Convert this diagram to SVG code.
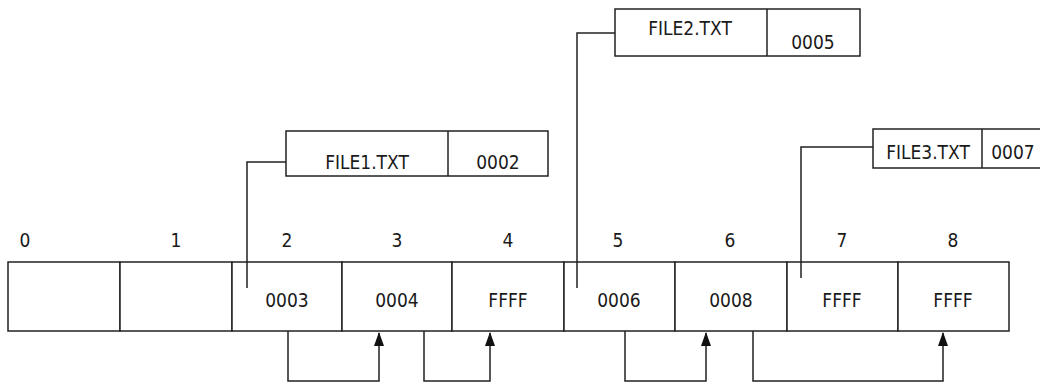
<svg xmlns="http://www.w3.org/2000/svg" width="1040" height="385" viewBox="0 0 1040 385">
<style>
.box{fill:#fff;stroke:#222;stroke-width:1.5}
.ln{fill:none;stroke:#222;stroke-width:1.5}
text{font-family:"DejaVu Sans Condensed","Liberation Sans",sans-serif;font-size:19px;fill:#1a1a1a;text-anchor:middle;dominant-baseline:central}
</style>
<defs>
<marker id="ah" viewBox="0 0 14 10" refX="13" refY="5" markerWidth="14" markerHeight="10" markerUnits="userSpaceOnUse" orient="auto">
<path d="M0,0 L14,5 L0,10 Z" fill="#111"/>
</marker>
</defs>
<rect width="1040" height="385" fill="#fff"/>
<g id="indices">
<text x="25" y="240">0</text>
<text x="176" y="240">1</text>
<text x="287" y="240">2</text>
<text x="397" y="240">3</text>
<text x="508" y="240">4</text>
<text x="618" y="240">5</text>
<text x="730" y="240">6</text>
<text x="842" y="240">7</text>
<text x="953" y="240">8</text>
</g>
<g id="cell0"><rect class="box" x="8" y="262" width="112" height="69"/></g>
<g id="cell1"><rect class="box" x="120" y="262" width="112" height="69"/></g>
<g id="cell2"><rect class="box" x="232" y="262" width="110" height="69"/><text x="287" y="300">0003</text></g>
<g id="cell3"><rect class="box" x="342" y="262" width="110" height="69"/><text x="397" y="300">0004</text></g>
<g id="cell4"><rect class="box" x="452" y="262" width="112" height="69"/><text x="508" y="300">FFFF</text></g>
<g id="cell5"><rect class="box" x="564" y="262" width="111" height="69"/><text x="619" y="300">0006</text></g>
<g id="cell6"><rect class="box" x="675" y="262" width="112" height="69"/><text x="731" y="300">0008</text></g>
<g id="cell7"><rect class="box" x="787" y="262" width="111" height="69"/><text x="842" y="300">FFFF</text></g>
<g id="cell8"><rect class="box" x="898" y="262" width="111" height="69"/><text x="953" y="300">FFFF</text></g>
<g id="file1">
<rect class="box" x="286" y="131" width="262" height="45"/>
<line class="ln" x1="448" y1="131" x2="448" y2="176"/>
<text x="367" y="162">FILE1.TXT</text>
<text x="498" y="162">0002</text>
</g>
<g id="file2">
<rect class="box" x="615" y="9" width="245" height="47"/>
<line class="ln" x1="767" y1="9" x2="767" y2="56"/>
<text x="690" y="28">FILE2.TXT</text>
<text x="813" y="42">0005</text>
</g>
<g id="file3">
<path class="box" d="M1041,129 H873 V168 H1041"/>
<line class="ln" x1="982" y1="129" x2="982" y2="168"/>
<text x="928" y="152">FILE3.TXT</text>
<text x="1013" y="152">0007</text>
</g>
<g id="connectors">
<polyline class="ln" points="286,162 247,162 247,288"/>
<polyline class="ln" points="615,33 577,33 577,288"/>
<polyline class="ln" points="873,147 801,147 801,278"/>
<polyline class="ln" points="288,331 288,381 379,381 379,333" marker-end="url(#ah)"/>
<polyline class="ln" points="424,331 424,381 490,381 490,333" marker-end="url(#ah)"/>
<polyline class="ln" points="625,331 625,381 706,381 706,333" marker-end="url(#ah)"/>
<polyline class="ln" points="753,331 753,381 943,381 943,333" marker-end="url(#ah)"/>
</g>
</svg>
